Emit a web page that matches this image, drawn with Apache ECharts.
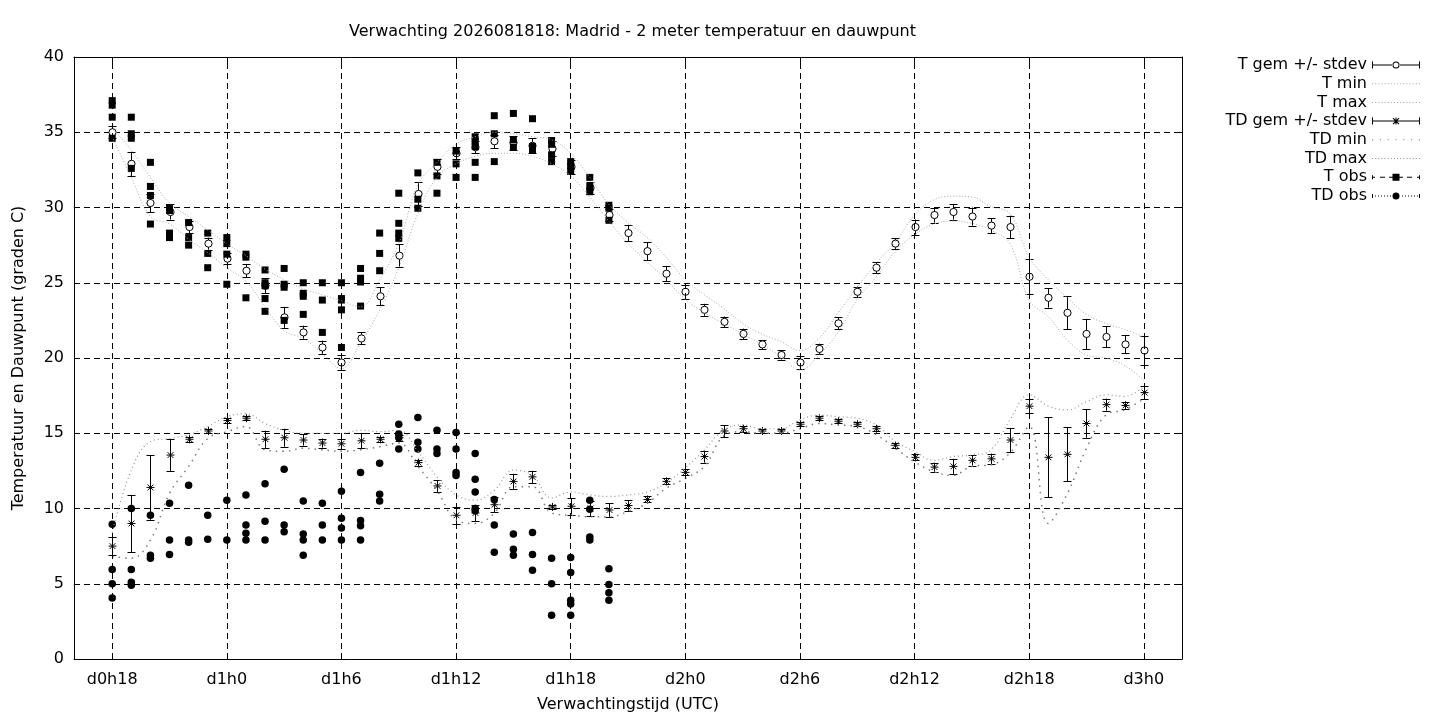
<!DOCTYPE html>
<html>
<head>
<meta charset="utf-8">
<title>Verwachting Madrid - 2 meter temperatuur en dauwpunt</title>
<script src="https://cdn.jsdelivr.net/npm/echarts@6/dist/echarts.min.js"></script>
<style>
  html, body { margin: 0; padding: 0; background: #fff; }
  #chart { width: 1440px; height: 720px; }
</style>
</head>
<body>
<div id="chart"></div>
<script>
// uren sinds d0h0
const hours = [18, 19, 20, 21, 22, 23, 24, 25, 26, 27, 28, 29, 30, 31, 32, 33, 34, 35, 36, 37,
  38, 39, 40, 41, 42, 43, 44, 45, 46, 47, 48, 49, 50, 51, 52, 53, 54, 55, 56, 57,
  58, 59, 60, 61, 62, 63, 64, 65, 66, 67, 68, 69, 70, 71, 72];

const tGem = [35.0, 32.9, 30.3, 29.7, 28.7, 27.6, 26.6, 25.8, 24.8, 22.7,
  21.7, 20.7, 19.7, 21.3, 24.1, 26.8, 30.9, 32.7, 33.6, 34.0,
  34.4, 34.3, 34.1, 33.9, 32.7, 31.3, 29.5, 28.3, 27.1, 25.6,
  24.4, 23.2, 22.4, 21.6, 20.9, 20.2, 19.7, 20.6, 22.3, 24.4,
  26.0, 27.6, 28.7, 29.5, 29.7, 29.4, 28.8, 28.7, 25.4, 24.0,
  23.0, 21.6, 21.4, 20.9, 20.5];
const tSd = [0.4, 0.8, 0.6, 0.5, 0.4, 0.4, 0.35, 0.45, 0.5, 0.7,
  0.45, 0.45, 0.5, 0.4, 0.6, 0.75, 0.8, 0.5, 0.4, 0.4,
  0.45, 0.45, 0.5, 0.5, 0.45, 0.4, 0.4, 0.55, 0.6, 0.5,
  0.45, 0.4, 0.35, 0.35, 0.3, 0.3, 0.45, 0.35, 0.4, 0.35,
  0.35, 0.35, 0.5, 0.5, 0.5, 0.6, 0.5, 0.75, 1.15, 0.65,
  1.1, 1.0, 0.7, 0.6, 0.95];
const tMin = [34.7, 32.0, 29.4, 28.9, 27.9, 27.0, 26.0, 25.1, 23.4, 21.8,
  21.3, 20.3, 19.3, 21.0, 23.2, 26.0, 29.6, 32.0, 32.9, 33.4,
  33.6, 33.6, 33.4, 32.9, 32.1, 30.7, 29.1, 27.6, 26.4, 25.2,
  23.9, 23.0, 22.3, 21.6, 20.9, 20.1, 19.2, 20.2, 21.7, 23.9,
  25.4, 27.1, 28.2, 28.9, 29.1, 28.95, 28.5, 27.6, 23.85, 22.75,
  21.2, 20.2, 20.0, 19.5, 18.5];
const tMax = [35.3, 33.8, 32.0, 30.3, 29.4, 28.5, 27.6, 26.8, 25.9, 25.2,
  24.6, 24.2, 23.8, 23.4, 25.2, 27.6, 31.5, 33.0, 34.2, 34.7,
  35.0, 34.9, 34.7, 34.5, 33.6, 32.0, 30.2, 29.0, 28.0, 26.7,
  25.2, 24.2, 23.3, 22.3, 21.6, 21.1, 20.5, 21.3, 23.0, 24.7,
  26.3, 27.7, 29.5, 30.5, 30.75, 30.7, 30.05, 29.6, 26.7, 25.2,
  24.0, 22.9, 22.3, 21.9, 21.4];

const tdGem = [7.5, 9.0, 11.4, 13.55, 14.6, 15.15, 15.85, 16.0, 14.6, 14.7,
  14.55, 14.35, 14.3, 14.5, 14.6, 14.7, 13.05, 11.5, 9.55, 9.7,
  10.25, 11.8, 12.1, 10.1, 10.15, 10.0, 9.9, 10.2, 10.6, 11.8,
  12.4, 13.45, 15.15, 15.3, 15.15, 15.15, 15.6, 16.0, 15.8, 15.6,
  15.3, 14.2, 13.4, 12.75, 12.8, 13.2, 13.3, 14.55, 16.8, 13.4,
  13.6, 15.65, 16.9, 16.85, 17.7];
const tdSd = [0.6, 1.9, 2.15, 1.05, 0.15, 0.15, 0.15, 0.15, 0.57, 0.6,
  0.37, 0.3, 0.35, 0.5, 0.15, 0.2, 0.2, 0.4, 0.55, 0.55,
  0.5, 0.5, 0.4, 0.15, 0.55, 0.5, 0.45, 0.35, 0.2, 0.2,
  0.2, 0.4, 0.4, 0.2, 0.15, 0.15, 0.15, 0.15, 0.15, 0.15,
  0.15, 0.15, 0.2, 0.3, 0.5, 0.35, 0.35, 0.8, 0.45, 2.65,
  1.8, 0.95, 0.4, 0.25, 0.45];
const tdMin = [6.8, 6.7, 7.9, 11.0, 12.8, 14.65, 15.1, 15.45, 13.9, 13.8,
  14.0, 13.9, 13.8, 13.9, 14.1, 14.35, 12.8, 11.2, 9.25, 9.0,
  9.7, 11.45, 11.45, 9.7, 9.55, 9.45, 9.45, 9.8, 10.35, 11.35,
  12.0, 12.8, 14.8, 15.1, 15.0, 15.0, 15.3, 15.65, 15.55, 15.45,
  14.9, 14.0, 13.1, 12.45, 12.2, 12.8, 12.9, 13.7, 15.45, 9.0,
  11.0, 14.0, 16.2, 16.55, 17.3];
const tdMax = [8.4, 12.55, 14.45, 14.65, 14.9, 15.45, 16.1, 16.3, 15.65, 15.2,
  15.0, 15.0, 15.0, 15.2, 15.1, 15.2, 13.8, 12.1, 10.9, 10.55,
  11.2, 12.55, 12.2, 10.7, 11.1, 10.9, 10.8, 10.9, 11.1, 11.7,
  12.7, 13.9, 15.2, 15.55, 15.3, 15.3, 15.9, 16.2, 16.1, 16.0,
  15.55, 14.45, 13.8, 13.2, 13.45, 13.55, 13.9, 15.9, 17.55, 16.8,
  16.55, 17.1, 17.55, 17.45, 18.1];

// waarnemingen (meerdere stations per uur)
const obsHours = [18, 19, 20, 21, 22, 23, 24, 25, 26, 27, 28, 29, 30, 31,
  32, 33, 34, 35, 36, 37, 38, 39, 40, 41, 42, 43, 44];
const tObs = [
  [37.1, 36.8, 36.0, 34.6], [36.0, 34.9, 34.6, 32.6], [33.0, 31.4, 30.8, 28.9],
  [30.0, 29.8, 28.3, 28.0], [29.0, 28.0, 27.5], [28.3, 26.95, 26.0],
  [28.0, 27.6, 26.9, 24.9], [26.9, 26.7, 24.0], [25.85, 25.0, 24.8, 23.95, 23.1],
  [25.95, 24.9, 24.7, 22.5], [25.0, 24.3, 24.1, 22.9], [25.0, 23.85, 21.7],
  [25.0, 23.95, 23.85, 23.2, 20.7], [25.95, 25.3, 25.05, 23.45], [28.3, 26.95, 25.8],
  [30.95, 28.95, 28.3, 27.95], [32.3, 30.55, 29.95], [33.0, 32.1, 30.95],
  [33.75, 32.9, 32.0], [34.7, 34.4, 34.05, 33.0, 32.0], [36.1, 34.9, 33.05],
  [36.25, 34.5, 34.0], [35.9, 34.05, 33.8], [34.45, 34.2, 33.5, 33.05],
  [33.05, 32.75, 32.4], [32.0, 31.4, 31.05], [30.15, 29.95, 29.15]
];
const tdObs = [
  [8.95, 5.95, 5.0, 4.05], [10.0, 5.95, 5.1, 4.9], [9.55, 6.9, 6.7],
  [10.35, 7.9, 6.95], [11.55, 7.9, 7.75], [9.55, 7.95],
  [10.55, 7.9], [10.9, 8.9, 8.35, 7.9], [11.65, 9.15, 7.9],
  [12.6, 8.9, 8.45], [10.5, 8.3, 7.9, 6.9], [10.35, 8.9, 7.9],
  [11.15, 9.35, 8.7, 7.9], [12.4, 9.2, 8.85, 7.9], [13.0, 10.95, 10.5],
  [15.6, 14.95, 14.7, 13.95], [16.05, 14.4, 13.95], [15.2, 13.95, 13.65],
  [15.05, 13.95, 12.4, 12.2], [13.65, 11.95, 11.1, 10.0, 9.85], [10.6, 8.9, 7.1],
  [8.3, 7.3, 6.9], [8.4, 6.95, 5.9], [6.7, 5.0, 2.9],
  [6.75, 5.75, 3.9, 3.65, 2.9], [10.55, 9.95, 8.1, 7.9], [6.0, 4.95, 4.4, 3.9]
];

const xTickHours = [18, 24, 30, 36, 42, 48, 54, 60, 66, 72];
const xTickLabels = ['d0h18', 'd1h0', 'd1h6', 'd1h12', 'd1h18', 'd2h0', 'd2h6', 'd2h12', 'd2h18', 'd3h0'];

const legendNames = ['T gem +/- stdev', 'T min', 'T max', 'TD gem +/- stdev',
  'TD min', 'TD max', 'T obs', 'TD obs'];

const FONT = 'DejaVu Sans';

// ---- legend icons (48 breed) ----
function dots(from, to, step) {
  let p = '';
  for (let x = from; x <= to; x += step) p += 'M' + x + ',4.5h1v1h-1z';
  return p;
}
const caps = 'M0,1.5h1v7h-1zM47,1.5h1v7h-1z';
const smallCaps = 'M0,3h1v4h-1zM47,3h1v4h-1z';
const ring = 'M20.5,5a3.5,3.5 0 1,0 7,0a3.5,3.5 0 1,0 -7,0zM21.5,5a2.5,2.5 0 1,1 5,0a2.5,2.5 0 1,1 -5,0z';
const disc = 'M20.5,5a3.5,3.5 0 1,0 7,0a3.5,3.5 0 1,0 -7,0z';
const star = 'M23.5,1.5h1v7h-1zM20,4.5h8v1h-8zM20.6,2.4L21.4,1.6L27.4,7.6L26.6,8.4zM26.6,1.6L27.4,2.4L21.4,8.4L20.6,7.6z';
const legendIcons = [
  'path://' + caps + 'M0,4.5h20v1h-20zM28,4.5h20v1h-20z' + ring,
  'path://' + dots(0, 45, 3),
  'path://' + dots(0, 45, 3),
  'path://' + caps + 'M0,4.5h48v1h-48z' + star,
  'path://' + dots(0, 42, 7),
  'path://' + dots(0, 45, 3),
  'path://' + smallCaps + 'M0,4.5h3v1h-3zM8,4.5h5v1h-5zM17,4.5h4v1h-4zM20.5,1.5h7v7h-7zM27,4.5h4v1h-4zM35,4.5h5v1h-5zM45,4.5h3v1h-3z',
  'path://' + smallCaps + dots(3, 18, 3) + disc + dots(30, 45, 3)
];

// ---- foutbalken ----
function errorBar(marker) {
  return function (params, api) {
    const x = api.value(0), m = api.value(1), s = api.value(2);
    const c = api.coord([x, m]);
    const lo = api.coord([x, m - s]);
    const hi = api.coord([x, m + s]);
    const cx = Math.round(c[0]) + 0.5;
    const cy = c[1];
    const w = 4;
    const st = { stroke: '#000', lineWidth: 1 };
    const children = [
      { type: 'line', shape: { x1: cx, y1: lo[1], x2: cx, y2: hi[1] }, style: st },
      { type: 'line', shape: { x1: cx - w, y1: Math.round(lo[1]) + 0.5, x2: cx + w, y2: Math.round(lo[1]) + 0.5 }, style: st },
      { type: 'line', shape: { x1: cx - w, y1: Math.round(hi[1]) + 0.5, x2: cx + w, y2: Math.round(hi[1]) + 0.5 }, style: st }
    ];
    if (marker === 'circle') {
      children.push({ type: 'circle', shape: { cx: cx, cy: cy, r: 3.6 },
        style: { fill: '#fff', stroke: '#000', lineWidth: 1 } });
    } else {
      const r = 4, d = 2.9;
      children.push(
        { type: 'line', shape: { x1: cx - r, y1: cy, x2: cx + r, y2: cy }, style: st },
        { type: 'line', shape: { x1: cx, y1: cy - r, x2: cx, y2: cy + r }, style: st },
        { type: 'line', shape: { x1: cx - d, y1: cy - d, x2: cx + d, y2: cy + d }, style: st },
        { type: 'line', shape: { x1: cx - d, y1: cy + d, x2: cx + d, y2: cy - d }, style: st }
      );
    }
    return { type: 'group', children: children };
  };
}

const tBars = hours.map((h, i) => [h, tGem[i], tSd[i]]);
const tdBars = hours.map((h, i) => [h, tdGem[i], tdSd[i]]);
const pair = (arr) => hours.map((h, i) => [h, arr[i]]);
const flatObs = (lists) => {
  const out = [];
  obsHours.forEach((h, i) => lists[i].forEach(v => out.push([h, v])));
  return out;
};

const chart = echarts.init(document.getElementById('chart'));

const axisText = { color: '#000', fontSize: 16, fontFamily: FONT };
const blackLine = { show: true, onZero: false, lineStyle: { color: '#000', width: 1 } };
const inTicks = { show: true, inside: true, length: 6, lineStyle: { color: '#000', width: 1 } };

const rowTop = 57;
const rowStep = 18.7;

chart.setOption({
  animation: false,
  backgroundColor: '#fff',
  textStyle: { fontFamily: FONT },
  title: {
    text: 'Verwachting 2026081818: Madrid - 2 meter temperatuur en dauwpunt',
    left: 344, top: 19,
    textStyle: { color: '#000', fontSize: 16, fontWeight: 'normal', fontFamily: FONT }
  },
  grid: { left: 74, right: 258, top: 57, bottom: 61, containLabel: false, outerBoundsMode: 'none' },
  legend: legendNames.map((name, i) => ({
    data: [{ name: name, icon: legendIcons[i] }],
    orient: 'vertical',
    align: 'right',
    right: 20,
    top: rowTop + i * rowStep,
    padding: 0,
    itemWidth: 48,
    itemHeight: 10,
    selectedMode: false,
    itemStyle: { borderWidth: 0, opacity: 1 },
    textStyle: { color: '#000', fontSize: 16, fontFamily: FONT }
  })),
  xAxis: [
    {
      type: 'value', min: 16, max: 74, position: 'bottom',
      axisLine: blackLine,
      axisTick: Object.assign({ customValues: xTickHours }, inTicks),
      axisLabel: Object.assign({
        customValues: xTickHours, margin: 13,
        formatter: (v) => xTickLabels[xTickHours.indexOf(v)]
      }, axisText),
      splitLine: { show: false },
      name: 'Verwachtingstijd (UTC)', nameLocation: 'middle', nameGap: 38,
      nameTextStyle: axisText
    },
    {
      type: 'value', min: 16, max: 74, position: 'top',
      axisLine: blackLine,
      axisTick: Object.assign({ customValues: xTickHours }, inTicks),
      axisLabel: { show: false },
      splitLine: { show: false }
    }
  ],
  yAxis: [
    {
      type: 'value', min: 0, max: 40, interval: 5, position: 'left',
      axisLine: blackLine,
      axisTick: inTicks,
      axisLabel: Object.assign({ margin: 10 }, axisText),
      splitLine: { show: true, lineStyle: { color: '#000', width: 1, type: [6, 4] } },
      name: 'Temperatuur en Dauwpunt (graden C)', nameLocation: 'middle', nameGap: 47,
      nameRotate: 90,
      nameTextStyle: axisText
    },
    {
      type: 'value', min: 0, max: 40, interval: 5, position: 'right',
      axisLine: blackLine,
      axisTick: inTicks,
      axisLabel: { show: false },
      splitLine: { show: false }
    }
  ],
  series: [
    {
      name: 'grid', type: 'line', data: [], silent: true, z: 1,
      markLine: {
        silent: true, symbol: ['none', 'none'], animation: false,
        label: { show: false },
        lineStyle: { color: '#000', width: 1, type: [6, 4] },
        emphasis: { disabled: true },
        data: xTickHours.map(h => ({ xAxis: h }))
      }
    },
    {
      name: legendNames[0], type: 'custom', data: tBars, encode: { x: 0, y: 1 },
      itemStyle: { color: '#000' }, silent: true, renderItem: errorBar('circle')
    },
    {
      name: legendNames[1], type: 'line', data: pair(tMin), smooth: 0.4, symbol: 'none',
      color: '#a8a8a8', silent: true,
      lineStyle: { color: '#a8a8a8', width: 1, type: [1, 2] }
    },
    {
      name: legendNames[2], type: 'line', data: pair(tMax), smooth: 0.4, symbol: 'none',
      color: '#a8a8a8', silent: true,
      lineStyle: { color: '#a8a8a8', width: 1, type: [1, 2] }
    },
    {
      name: legendNames[3], type: 'custom', data: tdBars, encode: { x: 0, y: 1 },
      itemStyle: { color: '#000' }, silent: true, renderItem: errorBar('star')
    },
    {
      name: legendNames[4], type: 'line', data: pair(tdMin), smooth: 0.4, symbol: 'none',
      color: '#7a7a7a', silent: true,
      lineStyle: { color: '#7a7a7a', width: 1.5, type: [1.5, 5] }
    },
    {
      name: legendNames[5], type: 'line', data: pair(tdMax), smooth: 0.4, symbol: 'none',
      color: '#949494', silent: true,
      lineStyle: { color: '#949494', width: 1.2, type: [1, 3] }
    },
    {
      name: legendNames[6], type: 'scatter', data: flatObs(tObs), symbol: 'rect', symbolSize: 7,
      itemStyle: { color: '#000', opacity: 1 }, silent: true
    },
    {
      name: legendNames[7], type: 'scatter', data: flatObs(tdObs), symbol: 'circle', symbolSize: 7.5,
      itemStyle: { color: '#000', opacity: 1 }, silent: true
    }
  ]
});
</script>
</body>
</html>
